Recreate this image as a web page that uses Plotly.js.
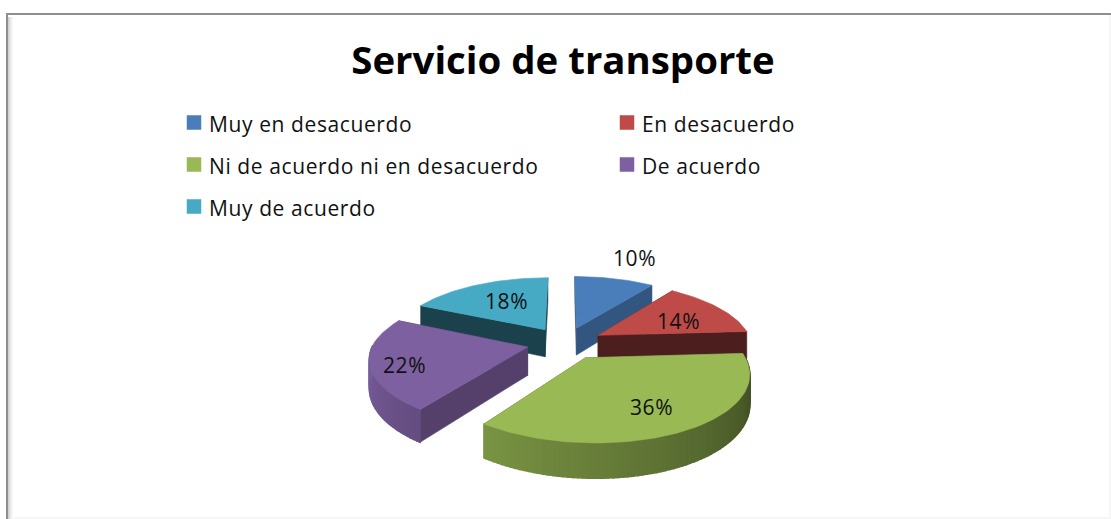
<!DOCTYPE html>
<html>
<head>
<meta charset="utf-8">
<script src="https://cdn.plot.ly/plotly-3.0.1.min.js"></script>
<style>html,body{margin:0;padding:0;background:#fff;overflow:hidden}#chart{width:1111px;height:519px}
.annotation-text{letter-spacing:0.6px}</style>
</head>
<body>
<div id="chart"></div>
<script>
// ---- data ----
const categories = ["Muy en desacuerdo", "En desacuerdo", "Ni de acuerdo ni en desacuerdo", "De acuerdo", "Muy de acuerdo"];
const values = [10, 14, 36, 22, 18];
const colors = ["#4a7ebb", "#be4b48", "#98b954", "#7d60a0", "#46aac4"];
const titleText = "Servicio de transporte";

// ---- styling / projection of the tilted pie ----
const wallShade = [0.68, 0.40, 0.60, 0.67, 0.39];
const labelRadius = [1.48, 0.65, 0.71, 0.80, 0.60];
const labelNudgeX = [5, 0, -2, 2, 4];
const labelNudgeY = [-1, 4, 0, 4, 0];
const drawOrder = [4, 0, 1, 3, 2];
const CX = 565, CY = 343, RX = 154, RY = 65, PERSP = 0.17, EXPLODE = 0.25, DEPTH = 28, SKEW = 5;
const FONT = "Open Sans, sans-serif";

function project(u, v, z) {
  const w = 1 - PERSP * v;
  return [CX + (RX * u + SKEW * Math.max(v, 0)) / w, CY + (RY * v + z * DEPTH) / w];
}
function shade(hex, f) {
  const n = parseInt(hex.slice(1), 16);
  const c = [n >> 16, (n >> 8) & 255, n & 255].map(p => Math.round(Math.min(255, p * f)));
  return "rgb(" + c.join(",") + ")";
}
const total = values.reduce((a, b) => a + b, 0);
const slices = [];
let acc = 0;
values.forEach((val, i) => {
  const a0 = acc / total * 2 * Math.PI;
  acc += val;
  const a1 = acc / total * 2 * Math.PI;
  const m = (a0 + a1) / 2;
  slices.push({i, a0, a1, m, ox: EXPLODE * Math.sin(m), oy: -EXPLODE * Math.cos(m)});
});
function rim(s, a, z) { return project(s.ox + Math.sin(a), s.oy - Math.cos(a), z); }
function apex(s, z) { return project(s.ox, s.oy, z); }

const traces = [];
function poly(pts, color, name, lw) {
  traces.push({
    type: "scatter", mode: "lines", fill: "toself", fillcolor: color,
    x: pts.concat([pts[0]]).map(p => p[0]), y: pts.concat([pts[0]]).map(p => p[1]),
    line: {color: color, width: lw}, hoverinfo: "skip", showlegend: false, name: name
  });
}
drawOrder.forEach(idx => {
  const s = slices[idx], col = colors[idx], name = categories[idx];
  const wall = shade(col, wallShade[idx]);
  // radial walls, the rear one first
  [s.a1, s.a0].sort((p, q) => Math.cos(q) - Math.cos(p)).forEach(a => {
    poly([apex(s, 0), rim(s, a, 0), rim(s, a, 1), apex(s, 1)], wall, name, 0.6);
  });
  // outer rim, front half only, shaded with the angle
  const step = 1.5 * Math.PI / 180;
  for (let a = s.a0; a < s.a1 - 1e-6; a += step) {
    const b = Math.min(a + step, s.a1), c = (a + b) / 2;
    if (Math.cos(c) >= 0.02) continue;
    const deg = c * 180 / Math.PI;
    const f = 0.38 + (deg - 90) / 180 * 0.6;
    poly([rim(s, a, 0), rim(s, b, 0), rim(s, b, 1), rim(s, a, 1)], shade(col, f), name, 1.5);
  }
  // top face
  const top = [apex(s, 0)];
  const n = Math.max(6, Math.ceil((s.a1 - s.a0) / (1.5 * Math.PI / 180)));
  for (let k = 0; k <= n; k++) top.push(rim(s, s.a0 + (s.a1 - s.a0) * k / n, 0));
  poly(top, col, name, 0.6);
});

// legend swatches, 2 columns
const legCols = [194, 627], legRows = [122.5, 164.5, 206.5], legTextGap = 13;
const annotations = [];
categories.forEach((c, i) => {
  const lx = legCols[i % 2], ly = legRows[Math.floor(i / 2)];
  traces.push({
    type: "scatter", mode: "markers", x: [lx], y: [ly], name: c, showlegend: false, hoverinfo: "skip",
    marker: {symbol: "square", size: 14.5, color: colors[i], line: {width: 0}}
  });
  annotations.push({
    xref: "x", yref: "y", x: lx + legTextGap, y: ly + 1, text: c, showarrow: false, xanchor: "left", yanchor: "middle",
    font: {family: FONT, size: 21, color: "#111"}
  });
});
// percentage labels
slices.forEach(s => {
  const r = labelRadius[s.i];
  const p = project(s.ox + r * Math.sin(s.m), s.oy - r * Math.cos(s.m), 0);
  annotations.push({
    xref: "x", yref: "y", x: p[0] + labelNudgeX[s.i], y: p[1] + labelNudgeY[s.i],
    text: Math.round(values[s.i] / total * 100) + "%", showarrow: false,
    xanchor: "center", yanchor: "middle", font: {family: FONT, size: 21, color: "#111"}
  });
});

// frame
const shapes = [
  {type: "rect", xref: "x", yref: "y", x0: 6, x1: 8, y0: 13, y1: 519, fillcolor: "#8f8f8f", line: {width: 0}, layer: "above"},
  {type: "rect", xref: "x", yref: "y", x0: 6, x1: 1111, y0: 13, y1: 15, fillcolor: "#8f8f8f", line: {width: 0}, layer: "above"}
];
["#d2d2d2", "#dedede", "#e8e8e8", "#f1f1f1", "#f8f8f8"].forEach((c, i) => {
  shapes.push({type: "rect", xref: "x", yref: "y", x0: 8 + i, x1: 9 + i, y0: 17, y1: 519, fillcolor: c, line: {width: 0}, layer: "below"});
});
shapes.push({type: "rect", xref: "x", yref: "y", x0: 14, x1: 1111, y0: 517, y1: 519, fillcolor: "#f6f6f6", line: {width: 0}, layer: "below"});
shapes.push({type: "rect", xref: "x", yref: "y", x0: 1109, x1: 1111, y0: 15, y1: 519, fillcolor: "#f6f6f6", line: {width: 0}, layer: "below"});

const layout = {
  width: 1111, height: 519, margin: {l: 0, r: 0, t: 0, b: 0},
  paper_bgcolor: "#fff", plot_bgcolor: "#fff", showlegend: false,
  title: {text: "<b>" + titleText + "</b>", x: 563 / 1111, xanchor: "center", y: 1 - 61 / 519, yanchor: "middle",
          font: {family: FONT, size: 38.4, color: "#000"}},
  xaxis: {range: [0, 1111], visible: false, fixedrange: true},
  yaxis: {range: [519, 0], visible: false, fixedrange: true},
  annotations, shapes
};
Plotly.newPlot("chart", traces, layout, {displayModeBar: false, staticPlot: true});
</script>
</body>
</html>
